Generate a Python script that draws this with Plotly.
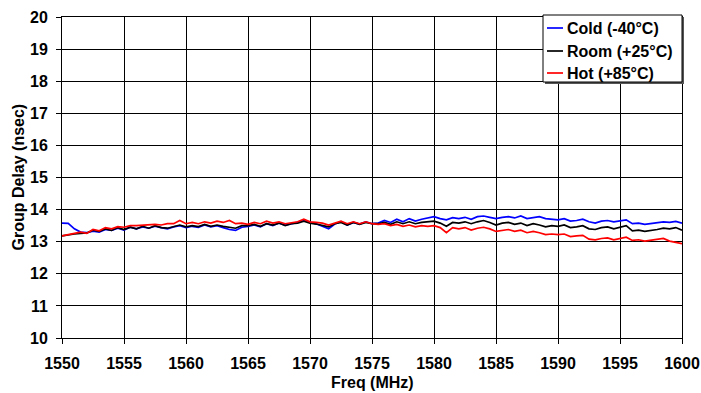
import plotly.graph_objects as go

freq = [1550 + 0.5 * i for i in range(101)]

cold = [13.58, 13.57, 13.40, 13.30, 13.28, 13.33, 13.30, 13.38, 13.35, 13.42,
        13.36, 13.45, 13.40, 13.46, 13.42, 13.48, 13.44, 13.40, 13.46, 13.50,
        13.44, 13.48, 13.45, 13.52, 13.46, 13.50, 13.44, 13.38, 13.35, 13.45,
        13.48, 13.52, 13.46, 13.56, 13.50, 13.58, 13.52, 13.55, 13.60, 13.68,
        13.60, 13.56, 13.48, 13.40, 13.55, 13.62, 13.52, 13.60, 13.55, 13.62,
        13.56, 13.58, 13.66, 13.60, 13.70, 13.62, 13.72, 13.64, 13.70, 13.74,
        13.78, 13.72, 13.68, 13.75, 13.72, 13.76, 13.70, 13.78, 13.80, 13.76,
        13.72, 13.76, 13.78, 13.74, 13.80, 13.72, 13.76, 13.78, 13.72, 13.70,
        13.68, 13.72, 13.64, 13.66, 13.70, 13.62, 13.58, 13.64, 13.66, 13.62,
        13.64, 13.68, 13.56, 13.58, 13.54, 13.56, 13.58, 13.62, 13.60, 13.63,
        13.58]

room = [13.18, 13.22, 13.24, 13.26, 13.27, 13.36, 13.32, 13.40, 13.35, 13.44,
        13.38, 13.45, 13.40, 13.48, 13.42, 13.50, 13.44, 13.42, 13.48, 13.52,
        13.46, 13.50, 13.47, 13.54, 13.48, 13.52, 13.48, 13.44, 13.42, 13.50,
        13.50, 13.54, 13.48, 13.56, 13.52, 13.58, 13.50, 13.56, 13.58, 13.64,
        13.58, 13.55, 13.50, 13.46, 13.56, 13.60, 13.52, 13.60, 13.54, 13.60,
        13.56, 13.56, 13.60, 13.54, 13.62, 13.56, 13.62, 13.56, 13.60, 13.62,
        13.64, 13.58, 13.48, 13.60, 13.58, 13.62, 13.56, 13.62, 13.66, 13.60,
        13.52, 13.58, 13.60, 13.54, 13.58, 13.50, 13.56, 13.52, 13.46, 13.50,
        13.48, 13.52, 13.44, 13.46, 13.50, 13.40, 13.38, 13.44, 13.46, 13.40,
        13.44, 13.50, 13.34, 13.36, 13.32, 13.34, 13.38, 13.42, 13.40, 13.44,
        13.36]

hot = [13.18, 13.22, 13.24, 13.30, 13.26, 13.38, 13.34, 13.44, 13.40, 13.47,
       13.45, 13.50, 13.50, 13.52, 13.53, 13.54, 13.52, 13.56, 13.56, 13.66,
       13.56, 13.60, 13.56, 13.62, 13.58, 13.64, 13.60, 13.66, 13.56, 13.58,
       13.54, 13.60, 13.56, 13.64, 13.58, 13.62, 13.56, 13.60, 13.62, 13.70,
       13.62, 13.60, 13.58, 13.52, 13.58, 13.64, 13.56, 13.62, 13.56, 13.62,
       13.56, 13.54, 13.56, 13.50, 13.54, 13.48, 13.52, 13.46, 13.50, 13.48,
       13.50, 13.44, 13.28, 13.44, 13.40, 13.44, 13.36, 13.42, 13.45, 13.40,
       13.32, 13.36, 13.38, 13.32, 13.36, 13.28, 13.32, 13.28, 13.22, 13.24,
       13.22, 13.24, 13.16, 13.18, 13.20, 13.08, 13.06, 13.10, 13.12, 13.06,
       13.10, 13.14, 13.04, 13.06, 13.02, 13.04, 13.06, 13.10, 13.02, 12.98,
       12.94]

series_names = ["Cold (-40°C)", "Room (+25°C)", "Hot (+85°C)"]
series_colors = ["#0000FF", "#000000", "#FF0000"]

x_ticks = list(range(1550, 1601, 5))
y_ticks = list(range(10, 21, 1))

W, H = 701, 393
# plot area in page pixels: x 62..682, y 17..338
ML, MT = 62, 17
MR, MB = 701 - 682, 393 - 338
PW, PH = W - ML - MR, H - MT - MB


def px_x(px):
    return (px - ML) / PW


def px_y(py):
    return (H - MB - py) / PH


font_fam = "Liberation Sans, Arial, sans-serif"

fig = go.Figure()
for name, vals, col in zip(series_names, [cold, room, hot], series_colors):
    fig.add_trace(go.Scatter(x=freq, y=vals, mode="lines", name=name,
                             line=dict(color=col, width=1.7), showlegend=False,
                             hoverinfo="skip"))

shapes = []
annotations = []

# legend box (drawn manually to match the short legend keys)
lx0, lx1, ly0, ly1 = 543, 682, 15, 82
shapes.append(dict(type="rect", xref="paper", yref="paper",
                   x0=px_x(lx0 + 2), x1=px_x(lx1 + 2), y0=px_y(ly1 + 2), y1=px_y(ly0 + 2),
                   line=dict(width=0), fillcolor="#555555", layer="above"))
shapes.append(dict(type="rect", xref="paper", yref="paper",
                   x0=px_x(lx0), x1=px_x(lx1), y0=px_y(ly1), y1=px_y(ly0),
                   line=dict(color="black", width=1), fillcolor="white", layer="above"))
entry_y = [28, 51, 73]
for name, col, ey in zip(series_names, series_colors, entry_y):
    shapes.append(dict(type="line", xref="paper", yref="paper",
                       x0=px_x(547), x1=px_x(563), y0=px_y(ey), y1=px_y(ey),
                       line=dict(color=col, width=1.7), layer="above"))
    annotations.append(dict(text=name, xref="paper", yref="paper",
                            x=px_x(565), y=px_y(ey), xanchor="left", yanchor="middle",
                            showarrow=False,
                            font=dict(family=font_fam, size=16, color="black", weight="bold")))

# axis titles
annotations.append(dict(text="Freq (MHz)", xref="paper", yref="paper",
                        x=0.5, y=px_y(383), xanchor="center", yanchor="middle",
                        showarrow=False,
                        font=dict(family=font_fam, size=16, color="black", weight="bold")))
annotations.append(dict(text="Group Delay (nsec)", xref="paper", yref="paper",
                        x=px_x(18), y=0.5, xanchor="center", yanchor="middle",
                        textangle=-90, showarrow=False,
                        font=dict(family=font_fam, size=16, color="black", weight="bold")))

fig.update_layout(
    width=W, height=H,
    margin=dict(l=ML, r=MR, t=MT, b=MB, autoexpand=False),
    paper_bgcolor="white", plot_bgcolor="white",
    font=dict(family=font_fam, color="black", size=16),
    showlegend=False,
    hovermode=False,
    shapes=shapes,
    annotations=annotations,
)
fig.update_xaxes(
    range=[1550, 1600], tickvals=x_ticks, ticktext=[str(t) for t in x_ticks],
    showgrid=True, gridcolor="black", gridwidth=1,
    showline=True, linecolor="black", linewidth=1, mirror=True,
    ticks="outside", ticklen=5, tickcolor="black", ticklabelstandoff=6,
    tickfont=dict(family=font_fam, size=16, weight="bold"),
    zeroline=False, automargin=False,
)
fig.update_yaxes(
    range=[10, 20], tickvals=y_ticks, ticktext=[str(t) for t in y_ticks],
    showgrid=True, gridcolor="black", gridwidth=1,
    showline=True, linecolor="black", linewidth=1, mirror=True,
    ticks="outside", ticklen=5, tickcolor="black", ticklabelstandoff=5,
    tickfont=dict(family=font_fam, size=16, weight="bold"),
    zeroline=False, automargin=False,
)

fig.write_html(
    "out.html",
    config={"displayModeBar": False, "staticPlot": True},
    post_script="document.body.style.margin='0';document.body.style.overflow='hidden';",
)
